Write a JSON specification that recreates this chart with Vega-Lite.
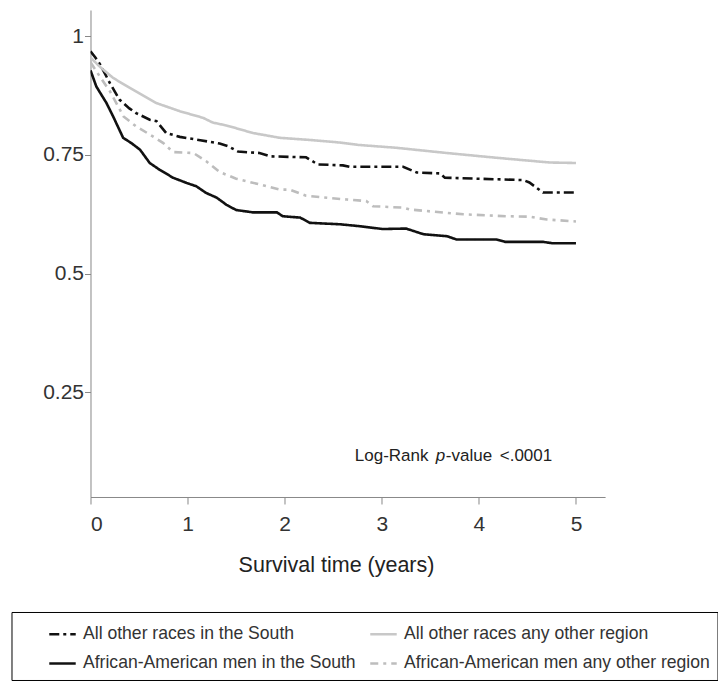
{
  "$schema": "https://vega.github.io/schema/vega-lite/v6.json",
  "width": 514.6,
  "height": 487,
  "padding": {"left": 10.5, "top": 10, "right": 0, "bottom": 0},
  "autosize": {"type": "pad"},
  "background": "#ffffff",
  "config": {
    "view": {"stroke": null},
    "axis": {"grid": false, "domainColor": "#888888", "tickColor": "#888888", "labelColor": "#333333", "labelFont": "Liberation Sans", "titleFont": "Liberation Sans", "titleFontWeight": "normal", "titleColor": "#222222"},
    "legend": {
      "orient": "none", "legendX": -79, "legendY": 602, "columns": 2,
      "strokeColor": "#000000", "padding": 7, "symbolType": "stroke", "symbolSize": 700,
      "titleOrient": "left", "titlePadding": 29, "titleFont": "Liberation Sans", "titleFontSize": 17.6,
      "labelFont": "Liberation Sans", "labelFontSize": 17.6, "labelColor": "#333333",
      "labelOffset": 5.5, "rowPadding": 5.5, "columnPadding": 8, "labelLimit": 400
    }
  },
  "datasets": {
    "curves": [
      {"series": "All other races in the South", "t": 0, "s": 0.968},
      {"series": "All other races in the South", "t": 0.05, "s": 0.955},
      {"series": "All other races in the South", "t": 0.1, "s": 0.94},
      {"series": "All other races in the South", "t": 0.2, "s": 0.901},
      {"series": "All other races in the South", "t": 0.3, "s": 0.866},
      {"series": "All other races in the South", "t": 0.4, "s": 0.848},
      {"series": "All other races in the South", "t": 0.47, "s": 0.838},
      {"series": "All other races in the South", "t": 0.61, "s": 0.824},
      {"series": "All other races in the South", "t": 0.68, "s": 0.821},
      {"series": "All other races in the South", "t": 0.78, "s": 0.796},
      {"series": "All other races in the South", "t": 0.92, "s": 0.788},
      {"series": "All other races in the South", "t": 1.13, "s": 0.781},
      {"series": "All other races in the South", "t": 1.33, "s": 0.774},
      {"series": "All other races in the South", "t": 1.42, "s": 0.768},
      {"series": "All other races in the South", "t": 1.52, "s": 0.757},
      {"series": "All other races in the South", "t": 1.74, "s": 0.754},
      {"series": "All other races in the South", "t": 1.85, "s": 0.747},
      {"series": "All other races in the South", "t": 2.22, "s": 0.745},
      {"series": "All other races in the South", "t": 2.34, "s": 0.73},
      {"series": "All other races in the South", "t": 2.6, "s": 0.728},
      {"series": "All other races in the South", "t": 2.67, "s": 0.725},
      {"series": "All other races in the South", "t": 3.22, "s": 0.725},
      {"series": "All other races in the South", "t": 3.36, "s": 0.713},
      {"series": "All other races in the South", "t": 3.6, "s": 0.711},
      {"series": "All other races in the South", "t": 3.65, "s": 0.702},
      {"series": "All other races in the South", "t": 4.46, "s": 0.697},
      {"series": "All other races in the South", "t": 4.52, "s": 0.692},
      {"series": "All other races in the South", "t": 4.66, "s": 0.671},
      {"series": "All other races in the South", "t": 5.0, "s": 0.671},
      {"series": "All other races any other region", "t": 0, "s": 0.955},
      {"series": "All other races any other region", "t": 0.1, "s": 0.935},
      {"series": "All other races any other region", "t": 0.233, "s": 0.912},
      {"series": "All other races any other region", "t": 0.405, "s": 0.891},
      {"series": "All other races any other region", "t": 0.68, "s": 0.859},
      {"series": "All other races any other region", "t": 0.92, "s": 0.842},
      {"series": "All other races any other region", "t": 1.16, "s": 0.828},
      {"series": "All other races any other region", "t": 1.26, "s": 0.818},
      {"series": "All other races any other region", "t": 1.4, "s": 0.812},
      {"series": "All other races any other region", "t": 1.675, "s": 0.796},
      {"series": "All other races any other region", "t": 1.95, "s": 0.786},
      {"series": "All other races any other region", "t": 2.29, "s": 0.781},
      {"series": "All other races any other region", "t": 2.57, "s": 0.776},
      {"series": "All other races any other region", "t": 2.76, "s": 0.771},
      {"series": "All other races any other region", "t": 3.15, "s": 0.765},
      {"series": "All other races any other region", "t": 3.67, "s": 0.754},
      {"series": "All other races any other region", "t": 4.18, "s": 0.744},
      {"series": "All other races any other region", "t": 4.73, "s": 0.734},
      {"series": "All other races any other region", "t": 5.0, "s": 0.733},
      {"series": "African-American men in the South", "t": 0, "s": 0.928},
      {"series": "African-American men in the South", "t": 0.06, "s": 0.894},
      {"series": "African-American men in the South", "t": 0.165, "s": 0.859},
      {"series": "African-American men in the South", "t": 0.233, "s": 0.831},
      {"series": "African-American men in the South", "t": 0.336, "s": 0.786},
      {"series": "African-American men in the South", "t": 0.42, "s": 0.775},
      {"series": "African-American men in the South", "t": 0.51, "s": 0.761},
      {"series": "African-American men in the South", "t": 0.61, "s": 0.733},
      {"series": "African-American men in the South", "t": 0.71, "s": 0.719},
      {"series": "African-American men in the South", "t": 0.85, "s": 0.702},
      {"series": "African-American men in the South", "t": 0.99, "s": 0.691},
      {"series": "African-American men in the South", "t": 1.09, "s": 0.684},
      {"series": "African-American men in the South", "t": 1.19, "s": 0.67},
      {"series": "African-American men in the South", "t": 1.3, "s": 0.66},
      {"series": "African-American men in the South", "t": 1.4, "s": 0.645},
      {"series": "African-American men in the South", "t": 1.5, "s": 0.634},
      {"series": "African-American men in the South", "t": 1.675, "s": 0.629},
      {"series": "African-American men in the South", "t": 1.92, "s": 0.629},
      {"series": "African-American men in the South", "t": 1.98, "s": 0.621},
      {"series": "African-American men in the South", "t": 2.16, "s": 0.618},
      {"series": "African-American men in the South", "t": 2.26, "s": 0.607},
      {"series": "African-American men in the South", "t": 2.57, "s": 0.604},
      {"series": "African-American men in the South", "t": 2.77, "s": 0.6},
      {"series": "African-American men in the South", "t": 3.01, "s": 0.594},
      {"series": "African-American men in the South", "t": 3.25, "s": 0.595},
      {"series": "African-American men in the South", "t": 3.43, "s": 0.583},
      {"series": "African-American men in the South", "t": 3.67, "s": 0.579},
      {"series": "African-American men in the South", "t": 3.77, "s": 0.572},
      {"series": "African-American men in the South", "t": 4.18, "s": 0.572},
      {"series": "African-American men in the South", "t": 4.27, "s": 0.567},
      {"series": "African-American men in the South", "t": 4.66, "s": 0.567},
      {"series": "African-American men in the South", "t": 4.76, "s": 0.564},
      {"series": "African-American men in the South", "t": 5.0, "s": 0.564},
      {"series": "African-American men any other region", "t": 0, "s": 0.945},
      {"series": "African-American men any other region", "t": 0.096, "s": 0.915},
      {"series": "African-American men any other region", "t": 0.2, "s": 0.884},
      {"series": "African-American men any other region", "t": 0.34, "s": 0.831},
      {"series": "African-American men any other region", "t": 0.47, "s": 0.81},
      {"series": "African-American men any other region", "t": 0.61, "s": 0.793},
      {"series": "African-American men any other region", "t": 0.75, "s": 0.775},
      {"series": "African-American men any other region", "t": 0.85, "s": 0.756},
      {"series": "African-American men any other region", "t": 1.06, "s": 0.754},
      {"series": "African-American men any other region", "t": 1.19, "s": 0.737},
      {"series": "African-American men any other region", "t": 1.33, "s": 0.714},
      {"series": "African-American men any other region", "t": 1.5, "s": 0.7},
      {"series": "African-American men any other region", "t": 1.74, "s": 0.688},
      {"series": "African-American men any other region", "t": 1.95, "s": 0.677},
      {"series": "African-American men any other region", "t": 2.05, "s": 0.677},
      {"series": "African-American men any other region", "t": 2.22, "s": 0.664},
      {"series": "African-American men any other region", "t": 2.64, "s": 0.656},
      {"series": "African-American men any other region", "t": 2.84, "s": 0.653},
      {"series": "African-American men any other region", "t": 2.91, "s": 0.642},
      {"series": "African-American men any other region", "t": 3.22, "s": 0.639},
      {"series": "African-American men any other region", "t": 3.29, "s": 0.635},
      {"series": "African-American men any other region", "t": 3.84, "s": 0.625},
      {"series": "African-American men any other region", "t": 4.28, "s": 0.621},
      {"series": "African-American men any other region", "t": 4.52, "s": 0.62},
      {"series": "African-American men any other region", "t": 4.7, "s": 0.614},
      {"series": "African-American men any other region", "t": 5.0, "s": 0.61}
    ],
    "note": [
      {"t": 2.722, "s": 0.116, "label": "Log-Rank"},
      {"t": 3.66, "s": 0.116, "label": "-value"},
      {"t": 4.215, "s": 0.116, "label": "<.0001"}
    ],
    "noteItalic": [
      {"t": 3.556, "s": 0.116, "label": "p"}
    ]
  },
  "layer": [
    {
      "data": {"name": "curves"},
      "mark": {"type": "line", "interpolate": "linear", "clip": true},
      "encoding": {
        "x": {
          "field": "t", "type": "quantitative",
          "scale": {"domain": [0, 5.3], "nice": false, "zero": false},
          "axis": {"values": [0, 1, 2, 3, 4, 5], "format": "d", "title": "Survival time (years)", "tickSize": 7, "labelFontSize": 21, "labelPadding": 10, "titleFontSize": 21.5, "titleX": 245.5, "titleY": 75, "titleBaseline": "alphabetic", "titleAlign": "center"}
        },
        "y": {
          "field": "s", "type": "quantitative",
          "scale": {"domain": [0.03, 1.055], "nice": false, "zero": false},
          "axis": {"values": [0.25, 0.5, 0.75, 1], "format": ".2~f", "title": null, "tickSize": 6, "labelFontSize": 21, "labelPadding": 1}
        },
        "color": {
          "field": "series", "type": "nominal", "title": " ",
          "scale": {
            "domain": ["All other races in the South", "African-American men in the South", "All other races any other region", "African-American men any other region"],
            "range": ["#111111", "#111111", "#c8c8c8", "#bdbdbd"]
          },
          "legend": {"title": " "}
        },
        "strokeDash": {
          "field": "series", "type": "nominal", "title": " ",
          "scale": {
            "domain": ["All other races in the South", "African-American men in the South", "All other races any other region", "African-American men any other region"],
            "range": [[10, 4, 3, 4], [1, 0], [1, 0], [8, 5, 3, 5]]
          },
          "legend": {"title": " "}
        },
        "strokeWidth": {
          "field": "series", "type": "nominal", "title": " ",
          "scale": {
            "domain": ["All other races in the South", "African-American men in the South", "All other races any other region", "African-American men any other region"],
            "range": [2.6, 2.6, 2.2, 2.2]
          },
          "legend": {"title": " "}
        }
      }
    },
    {
      "data": {"name": "note"},
      "mark": {"type": "text", "align": "left", "baseline": "middle", "font": "Liberation Sans", "fontSize": 17, "color": "#222222"},
      "encoding": {
        "x": {"field": "t", "type": "quantitative"},
        "y": {"field": "s", "type": "quantitative"},
        "text": {"field": "label"}
      }
    },
    {
      "data": {"name": "noteItalic"},
      "mark": {"type": "text", "align": "left", "baseline": "middle", "font": "Liberation Sans", "fontSize": 17, "fontStyle": "italic", "color": "#222222"},
      "encoding": {
        "x": {"field": "t", "type": "quantitative"},
        "y": {"field": "s", "type": "quantitative"},
        "text": {"field": "label"}
      }
    }
  ]
}
